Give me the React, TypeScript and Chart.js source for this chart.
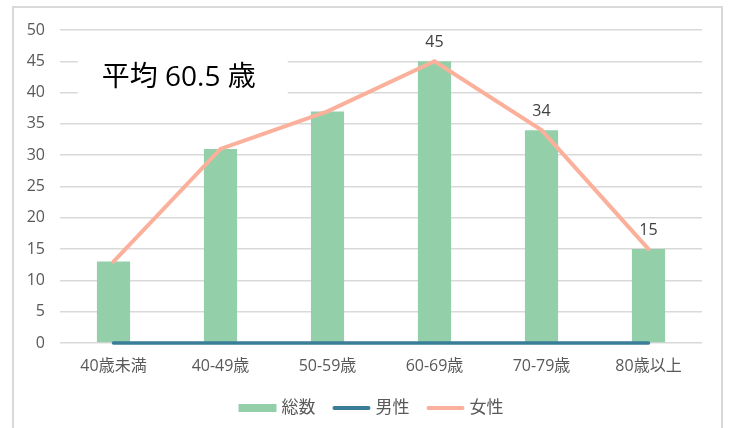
import React, { useEffect, useRef } from "react";
import { Chart, registerables } from "chart.js";

Chart.register(...registerables);

const categories = ["40歳未満", "40-49歳", "50-59歳", "60-69歳", "70-79歳", "80歳以上"];
const totalValues = [13, 31, 37, 45, 34, 15];
const maleValues = [0, 0, 0, 0, 0, 0];
const femaleValues = [13, 31, 37, 45, 34, 15];
const labeledIndices = [3, 4, 5];
const annotationText = "平均 60.5 歳";
const yTicks = [0, 5, 10, 15, 20, 25, 30, 35, 40, 45, 50];

const FONT = "'Open Sans', 'Noto Sans CJK JP', sans-serif";
const TEXT_COLOR = "#595959";

export default function App() {
  const ref = useRef<HTMLCanvasElement | null>(null);

  useEffect(() => {
    if (!ref.current) return;
    const overlay = {
      id: "overlay",
      afterDatasetsDraw(chart: any) {
        const ctx = chart.ctx;
        const x = chart.scales.x;
        const y = chart.scales.y;
        ctx.save();
        ctx.font = `16px ${FONT}`;
        ctx.fillStyle = "#404040";
        ctx.textAlign = "center";
        ctx.textBaseline = "middle";
        labeledIndices.forEach((i) => {
          ctx.fillText(String(femaleValues[i]), x.getPixelForValue(i), y.getPixelForValue(femaleValues[i]) - 19);
        });
        // annotation box
        const cat = (x.right - x.left) / categories.length;
        const cx = x.left + 1.11 * cat;
        const cy = (y.getPixelForValue(45) + y.getPixelForValue(40)) / 2 + 1;
        ctx.font = `28px ${FONT}`;
        ctx.fillStyle = "#ffffff";
        ctx.fillRect(cx - 101, cy - 17, 210, 34);
        ctx.fillStyle = "#000000";
        ctx.fillText(annotationText, cx, cy);
        ctx.restore();
      },
      afterDraw(chart: any) {
        // legend
        const ctx = chart.ctx;
        ctx.save();
        ctx.font = `17px ${FONT}`;
        ctx.textBaseline = "middle";
        ctx.textAlign = "left";
        const ds = chart.data.datasets;
        const sym = 38;
        const gap = 5;
        const itemGap = 17;
        const widths = ds.map((d: any) => sym + gap + ctx.measureText(d.label).width);
        const total = widths.reduce((a: number, b: number) => a + b, 0) + itemGap * (ds.length - 1);
        let px = 371 - total / 2;
        const py = 408;
        ds.forEach((d: any, i: number) => {
          if (d.type === "bar") {
            ctx.fillStyle = d.backgroundColor;
            ctx.fillRect(px, py - 4, sym, 8);
          } else {
            ctx.strokeStyle = d.borderColor;
            ctx.lineWidth = 4;
            ctx.lineCap = "round";
            ctx.beginPath();
            ctx.moveTo(px + 2, py);
            ctx.lineTo(px + sym - 2, py);
            ctx.stroke();
          }
          ctx.fillStyle = TEXT_COLOR;
          ctx.fillText(d.label, px + sym + gap, py);
          px += widths[i] + itemGap;
        });
        ctx.restore();
      },
    };
    const chart = new Chart(ref.current, {
      type: "bar",
      data: {
        labels: categories,
        datasets: [
          {
            type: "bar",
            label: "総数",
            data: totalValues,
            backgroundColor: "#93D0AA",
            borderWidth: 0,
            barPercentage: 0.62,
            categoryPercentage: 0.5,
            order: 3,
          },
          {
            type: "line",
            label: "男性",
            data: maleValues,
            borderColor: "#3A7D99",
            backgroundColor: "#3A7D99",
            borderWidth: 3.5,
            pointRadius: 0,
            borderCapStyle: "round",
            clip: false,
            order: 2,
          },
          {
            type: "line",
            label: "女性",
            data: femaleValues,
            borderColor: "#FBB09B",
            backgroundColor: "#FBB09B",
            borderWidth: 4,
            pointRadius: 0,
            borderCapStyle: "round",
            clip: false,
            order: 1,
          },
        ] as any,
      },
      options: {
        animation: false,
        responsive: false,
        maintainAspectRatio: false,
        layout: { padding: { top: 30, right: 27, left: 0, bottom: 45 } },
        plugins: {
          tooltip: { enabled: false },
          legend: { display: false },
        },
        scales: {
          x: {
            grid: { display: false, drawTicks: false },
            border: { display: false },
            ticks: { font: { family: FONT, size: 16 }, color: TEXT_COLOR, padding: 14 },
            afterFit: (s: any) => {
              s.height = 40;
            },
          },
          y: {
            min: 0,
            max: 50,
            afterBuildTicks: (s: any) => {
              s.ticks = yTicks.map((v) => ({ value: v }));
            },
            grid: { color: "#D9D9D9", lineWidth: 1.5, drawTicks: false },
            border: { display: false },
            ticks: { font: { family: FONT, size: 16 }, color: TEXT_COLOR, padding: 15 },
            afterFit: (s: any) => {
              s.width = 60;
            },
          },
        },
      },
      plugins: [overlay],
    } as any);
    return () => chart.destroy();
  }, []);

  return (
    <div style={{ position: "absolute", left: 0, top: 0, width: 729, height: 428, background: "#fff", overflow: "hidden" }}>
      <div
        style={{
          position: "absolute",
          left: 12,
          top: 6,
          width: 711,
          height: 440,
          border: "2px solid #D9D9D9",
          boxSizing: "border-box",
        }}
      />
      <canvas ref={ref} width={729} height={428} style={{ position: "absolute", left: 0, top: 0, width: 729, height: 428 }} />
    </div>
  );
}
